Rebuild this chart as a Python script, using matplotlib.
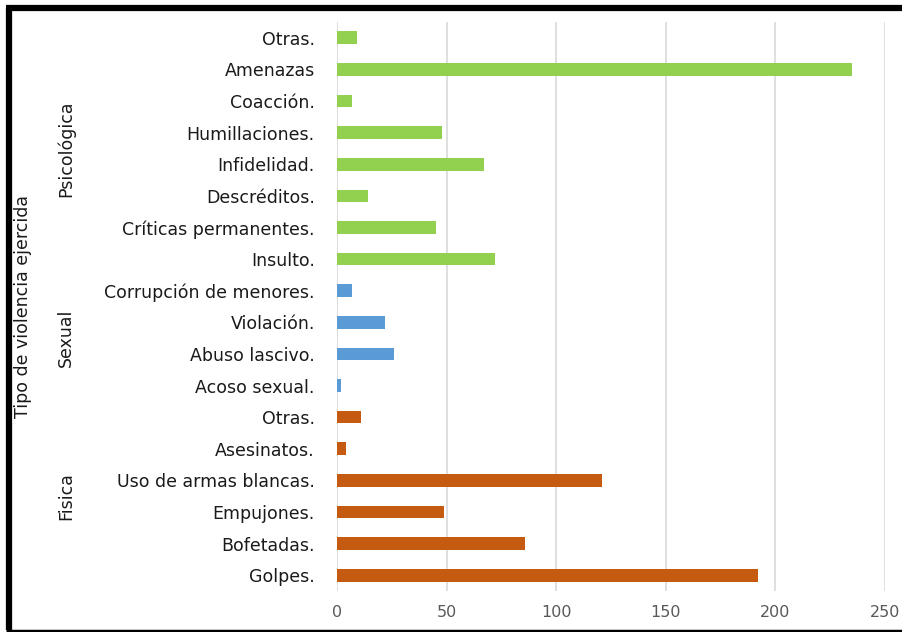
import matplotlib
matplotlib.use("Agg")
import matplotlib.pyplot as plt
from matplotlib.lines import Line2D

plt.rcParams["font.family"] = ["DejaVu Sans"]

# Data (top to bottom as displayed)
categories = ["Otras.", "Amenazas", "Coacción.", "Humillaciones.", "Infidelidad.",
              "Descréditos.", "Críticas permanentes.", "Insulto.",
              "Corrupción de menores.", "Violación.", "Abuso lascivo.", "Acoso sexual.",
              "Otras.", "Asesinatos.", "Uso de armas blancas.", "Empujones.",
              "Bofetadas.", "Golpes."]
values = [9, 235, 7, 48, 67, 14, 45, 72,
          7, 22, 26, 2,
          11, 4, 121, 49, 86, 192]
groups = ["Psicológica"] * 8 + ["Sexual"] * 4 + ["Fisica"] * 6
group_names = ["Psicológica", "Sexual", "Fisica"]
group_colors = {"Psicológica": "#92D050", "Sexual": "#5B9BD5", "Fisica": "#C55A11"}
xticks = [0, 50, 100, 150, 200, 250]
axis_title = "Tipo de violencia ejercida"

W, H = 902, 632
fig = plt.figure(figsize=(W / 100, H / 100), dpi=100)
ax = fig.add_axes([337 / W, 1 - 591 / H, (884.6 - 337) / W, (591 - 22) / H])

n = len(categories)
ypos = list(range(n))
ax.barh(ypos, values, height=0.4, color=[group_colors[g] for g in groups], zorder=3)
ax.set_ylim(n - 0.5, -0.5)
ax.set_xlim(0, 250)
ax.set_xticks(xticks)
ax.set_xticklabels([str(t) for t in xticks], fontsize=11.5, color="#595959")
ax.set_yticks(ypos)
ax.set_yticklabels(categories, fontsize=12.5, color="#1a1a1a")
ax.tick_params(axis="both", length=0)
ax.tick_params(axis="x", pad=10)
ax.tick_params(axis="y", pad=16)
ax.grid(axis="x", color="#D9D9D9", linewidth=1.2, zorder=0)
for s in ax.spines.values():
    s.set_visible(False)

# group labels
for g in group_names:
    idx = [i for i, gg in enumerate(groups) if gg == g]
    yc = (min(idx) + max(idx)) / 2
    ydisp = ax.transData.transform((0, yc))[1]
    yfig = ydisp / fig.bbox.height
    fig.text(66 / W, yfig, g, rotation=90, ha="center", va="center",
             fontsize=12.5, color="#1a1a1a")

fig.text(23 / W, 1 - 306 / H, axis_title, rotation=90, ha="center", va="center",
         fontsize=12.5, color="#1a1a1a")

# frame (left, top, bottom)
lw = 4.5
fig.add_artist(Line2D([8.5 / W, 8.5 / W], [1 - 8 / H, 1 - 630 / H], color="black",
                      linewidth=lw, transform=fig.transFigure, solid_capstyle="butt"))
fig.add_artist(Line2D([6 / W, 1.0], [1 - 8 / H, 1 - 8 / H], color="black",
                      linewidth=lw, transform=fig.transFigure, solid_capstyle="butt"))
fig.add_artist(Line2D([6 / W, 1.0], [1 - 630.5 / H, 1 - 630.5 / H], color="black",
                      linewidth=2.5, transform=fig.transFigure, solid_capstyle="butt"))

fig.savefig("out.png", dpi=100, facecolor="white")
